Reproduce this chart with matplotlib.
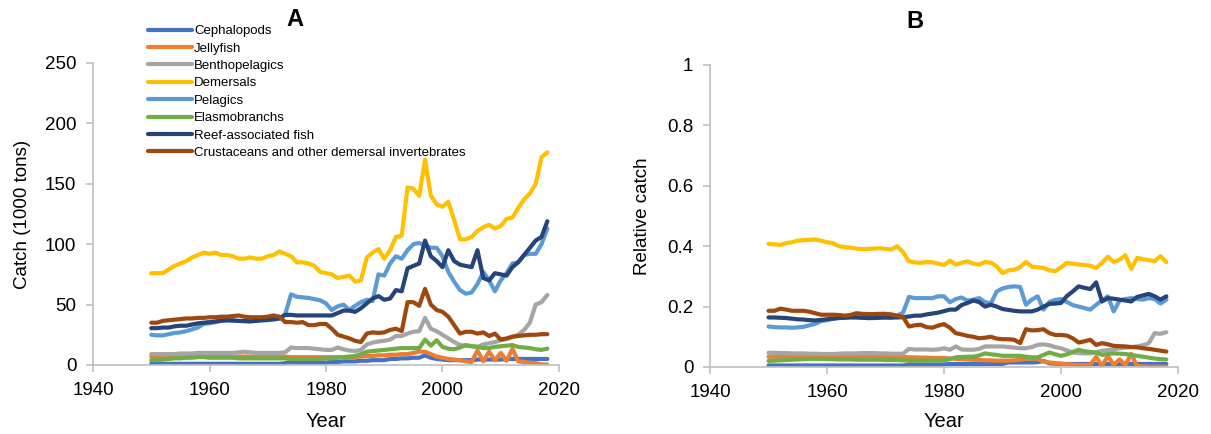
import numpy as np
import matplotlib.pyplot as plt

plt.rcParams['font.family'] = ['Liberation Sans', 'DejaVu Sans']

years = list(range(1950, 2019))

names = ["Cephalopods", "Jellyfish", "Benthopelagics", "Demersals", "Pelagics",
         "Elasmobranchs", "Reef-associated fish",
         "Crustaceans and other demersal invertebrates"]
colors = ["#4472C4", "#ED7D31", "#A5A5A5", "#FFC000", "#5B9BD5",
          "#70AD47", "#264478", "#9E480E"]

# ---- panel A: catch (1000 tons), 1950..2018 ----
cephalopods = [1, 1, 1, 1, 1, 1, 1, 1, 1, 1, 1, 1, 1, 1, 1, 1, 1, 1, 1, 1,
               1, 1, 1, 1.5, 2.5, 2, 2, 2, 2, 2, 2, 2.5, 2.5, 3, 3, 3, 3.5, 3.5, 4, 4,
               4, 5, 5, 5.5, 5.5, 6, 6, 8, 6, 5, 4.5, 4, 4, 4, 4, 4, 4.5, 4.5, 4.5, 4.5,
               4.5, 5, 5, 5, 5, 5, 5, 5, 5]
jellyfish = [7, 7, 7, 7, 7, 7, 7, 7, 7, 7, 7, 7, 7, 7, 7, 7, 7, 7, 7, 7,
             7, 7, 7, 7, 6.5, 6.5, 6.5, 6.5, 6.5, 6.5, 6.5, 6.5, 6.5, 6.5, 6.5, 6.5, 7, 7.5, 7.5, 8,
             8, 8.5, 8.5, 9, 9, 10, 11, 11, 9, 7, 6, 5, 4.5, 4, 3, 2.5, 12, 3, 11, 4,
             10, 3.5, 13.5, 3, 2.5, 2, 1.5, 0.5, 0.3]
benthopelagics = [9, 9, 9, 9, 9, 9.5, 9.5, 9.5, 10, 10, 10, 10, 10, 10, 10, 10.5, 11, 10.5, 10, 10,
                  10, 10, 10, 10.5, 14.5, 14, 14, 14, 13.5, 13, 12.5, 12.5, 14.5, 13, 12, 11.5, 12.5, 17, 18.5, 19.5,
                  20, 21, 24, 24, 26, 27.5, 28, 39, 30, 28, 25, 22, 19, 16.5, 16, 15.5, 15, 17, 18, 19,
                  20.5, 21.5, 23, 25, 29, 35, 50, 52, 58]
demersals = [76, 76, 76, 79, 82, 84, 86, 89, 91, 93, 92, 93, 91, 91, 90, 88, 88, 89, 88, 88,
             90, 91, 94, 92, 90, 85, 85, 84, 82, 77, 76, 75, 72, 73, 74, 69, 70, 89, 93, 96,
             88, 95, 106, 107, 147, 146, 140, 170, 140, 133, 131, 135, 120, 104, 104, 106, 111, 114, 116, 113,
             115, 121, 122, 130, 137, 142, 150, 172, 176]
pelagics = [25, 24.5, 24.5, 25.5, 26.5, 27, 28, 29.5, 31, 34, 34.5, 35.5, 37, 37, 36.5, 36.5, 36, 36.5, 36.5, 37,
            37, 37.5, 38.5, 42, 58.5, 56.5, 56, 55.5, 54.5, 53.5, 51, 45.5, 48.5, 50, 45.5, 49, 52, 54, 53, 75,
            74, 84, 90, 88, 95, 100, 101, 99, 97, 97, 90, 77, 69, 62, 59, 60, 67, 77, 70, 61,
            70, 76, 84, 85, 91, 92, 92, 100, 113]
elasmobranchs = [4, 4, 4.5, 5, 5.5, 5.5, 6, 6, 6.5, 6.5, 6, 6, 6, 6, 6, 5.5, 5.5, 5.5, 5.5, 5.5,
                 5.5, 5.5, 5.5, 5.5, 5, 5, 5, 5, 5, 5, 5.5, 5.5, 6, 6.5, 7, 7.5, 9, 11, 11.5, 12,
                 12.5, 13, 13.5, 14, 14, 14, 14, 21, 16, 20.5, 15, 13.5, 13, 14.5, 16.5, 15.5, 15, 14, 14, 15,
                 15.5, 16, 16.5, 15, 14.5, 14, 13, 12.5, 13.5]
reef = [30.5, 30.5, 31, 31, 32, 32.5, 32.5, 33.5, 34.5, 35, 35.5, 36, 36.5, 37, 37, 36.5, 36.5, 36, 36.5, 37,
        37.5, 38, 38.5, 41.5, 41.5, 41, 41, 41, 41, 41, 41, 41, 43, 45, 45, 44, 47, 51, 55, 57,
        54, 55, 62, 61, 80, 82, 84, 103, 90, 86, 81, 95, 86, 83, 82, 81, 95, 72, 70, 76,
        75, 74, 81, 85, 91, 97, 103, 106, 119]
crustaceans = [35, 35, 36.5, 37, 37.5, 38, 38.5, 38.5, 39, 39, 39.5, 39.5, 40, 40, 40.5, 41, 40, 39.5, 39.5, 39.5,
               40, 41, 40, 35.5, 35.5, 35, 35.5, 33, 33, 34, 34, 30, 25, 23.5, 22, 20, 19, 26, 27, 26.5,
               27, 29, 30, 28, 52, 52, 49, 63, 50, 45.5, 44, 40, 33, 26, 27.5, 27.5, 26, 27, 24, 26,
               21, 22, 23.5, 24, 24.5, 25, 25, 25.5, 25.5]

# ---- panel B: relative catch, 1950..2018 ----
rel_cephalopods = [.005] * 24 + [.008] * 7 + [.01] * 10 + [.015, .015, .015, .015, .015, .016, .02,
                   .012, .011, .01, .01, .01, .01, .01, .01, .01, .01, .01, .01, .01, .01, .01, .01,
                   .01, .01, .01, .01, .01, .01, .01, .01][:28]
rel_jellyfish = [.034] * 23 + [.033, .032, .032, .031, .031, .030, .030, .030, .028, .027, .026, .025,
                 .024, .023, .022, .022, .021, .021, .021, .022, .024, .027, .029, .026, .018, .015,
                 .013, .011, .009, .008, .007, .007, .007, .034, .003, .037, .007, .025, .007, .043,
                 .003, .002, .001, .001, .001, .001]
rel_benthopelagics = [.047, .047, .046, .046, .045, .045, .045, .044, .044, .043, .043, .043, .044, .045,
                      .045, .045, .046, .046, .046, .045, .045, .044, .044, .044, .06, .058, .058, .058,
                      .057, .058, .062, .057, .068, .058, .057, .057, .06, .068, .068, .068, .068, .066,
                      .064, .062, .062, .066, .073, .075, .072, .066, .062, .055, .048, .046, .045, .045,
                      .048, .054, .056, .058, .062, .064, .066, .068, .072, .079, .112, .11, .115]
rel_demersals = [.408, .406, .404, .41, .413, .418, .42, .421, .422, .418, .413, .41, .40, .397, .395,
                 .392, .39, .391, .392, .393, .391, .389, .40, .38, .35, .346, .345, .347, .347, .342,
                 .338, .352, .339, .345, .35, .342, .339, .348, .345, .333, .311, .32, .322, .33, .348,
                 .332, .33, .328, .32, .317, .33, .345, .342, .339, .338, .335, .328, .345, .365, .348,
                 .355, .37, .325, .361, .357, .354, .35, .367, .347]
rel_pelagics = [.134, .132, .131, .131, .130, .131, .133, .138, .143, .152, .155, .16, .163, .165, .165,
                .165, .163, .162, .163, .165, .164, .162, .17, .18, .232, .228, .228, .228, .228, .234,
                .234, .214, .225, .23, .22, .223, .228, .215, .21, .25, .26, .265, .267, .265, .206,
                .223, .234, .19, .215, .222, .225, .215, .205, .2, .195, .19, .206, .22, .234, .184,
                .22, .225, .228, .225, .223, .228, .225, .21, .223]
rel_elasmobranchs = [.02, .021, .022, .023, .024, .025, .026, .027, .027, .027, .026, .026, .025, .025,
                     .025, .024, .024, .024, .024, .024, .023, .023, .023, .022, .021, .021, .021, .021,
                     .022, .021, .022, .026, .032, .033, .034, .034, .038, .045, .042, .04, .037, .037,
                     .037, .037, .034, .032, .032, .04, .048, .042, .037, .042, .05, .057, .052, .05,
                     .048, .04, .043, .045, .044, .043, .04, .037, .034, .031, .028, .026, .025]
rel_reef = [.164, .164, .163, .162, .16, .158, .157, .155, .154, .156, .158, .16, .162, .163, .164,
            .164, .163, .162, .162, .163, .164, .164, .164, .165, .167, .17, .17, .174, .177, .18,
            .185, .19, .19, .205, .212, .22, .215, .2, .206, .2, .192, .189, .186, .184, .184,
            .184, .19, .2, .209, .21, .212, .235, .25, .267, .262, .258, .28, .217, .228, .226,
            .223, .22, .217, .232, .237, .242, .234, .223, .234]
rel_crustaceans = [.186, .186, .193, .19, .186, .186, .186, .183, .178, .173, .173, .173, .172, .17,
                   .172, .178, .176, .175, .175, .176, .176, .174, .17, .165, .134, .138, .14, .132,
                   .13, .137, .142, .13, .112, .108, .103, .1, .095, .097, .1, .094, .092, .092, .09,
                   .079, .125, .121, .122, .125, .112, .106, .106, .104, .095, .081, .085, .09, .073,
                   .079, .075, .07, .069, .068, .066, .065, .062, .06, .057, .054, .051]

catch = [cephalopods, jellyfish, benthopelagics, demersals, pelagics,
         elasmobranchs, reef, crustaceans]
relative = [rel_cephalopods, rel_jellyfish, rel_benthopelagics, rel_demersals, rel_pelagics,
            rel_elasmobranchs, rel_reef, rel_crustaceans]

fig = plt.figure(figsize=(12.11, 4.34), dpi=100)
axA = fig.add_axes([0.0768, 0.159, 0.3848, 0.696])
axB = fig.add_axes([0.5863, 0.1544, 0.3865, 0.696])

spine_c = '#BFBFBF'
for ax in (axA, axB):
    for s in ('top', 'right'):
        ax.spines[s].set_visible(False)
    for s in ('left', 'bottom'):
        ax.spines[s].set_color(spine_c)
        ax.spines[s].set_linewidth(1.2)
    ax.tick_params(colors=spine_c, labelcolor='black', labelsize=13.5, length=5, width=1.2, pad=7)
    ax.set_xlim(1940, 2020)
    ax.set_xticks([1940, 1960, 1980, 2000, 2020])
    ax.set_xlabel("Year", fontsize=14.5)

axA.xaxis.set_label_coords(0.5, -0.155)
axB.xaxis.set_label_coords(0.5, -0.15)

# ---- (A) absolute catch ----
lines = []
for name, vals, c in zip(names, catch, colors):
    ln, = axA.plot(years[:len(vals)], vals, color=c, lw=3, label=name, solid_capstyle='round')
    lines.append(ln)
axA.set_ylim(0, 250)
axA.set_yticks(range(0, 251, 50))
axA.set_ylabel("Catch (1000 tons)", fontsize=13.5)
axA.yaxis.set_label_coords(-0.133, 0.5)
fig.text(295 / 1211, 1 - 20 / 434, "A", fontsize=17, fontweight='bold', ha='center', va='center')

fig.legend(handles=lines, loc='upper left', bbox_to_anchor=(148 / 1211, 1 - 25 / 434),
           frameon=False, fontsize=9.5, handlelength=3.3, handletextpad=0.2,
           labelspacing=0.39, borderaxespad=0, borderpad=0)

# ---- (B) relative catch ----
for vals, c in zip(relative, colors):
    axB.plot(years[:len(vals)], vals, color=c, lw=3, solid_capstyle='round')
axB.set_ylim(0, 1)
axB.set_yticks([0, 0.2, 0.4, 0.6, 0.8, 1])
axB.set_yticklabels(["0", "0.2", "0.4", "0.6", "0.8", "1"])
axB.set_ylabel("Relative catch", fontsize=13.5)
axB.yaxis.set_label_coords(-0.127, 0.5)
fig.text(915 / 1211, 1 - 22 / 434, "B", fontsize=17, fontweight='bold', ha='center', va='center')

fig.savefig("out.png", dpi=100)
